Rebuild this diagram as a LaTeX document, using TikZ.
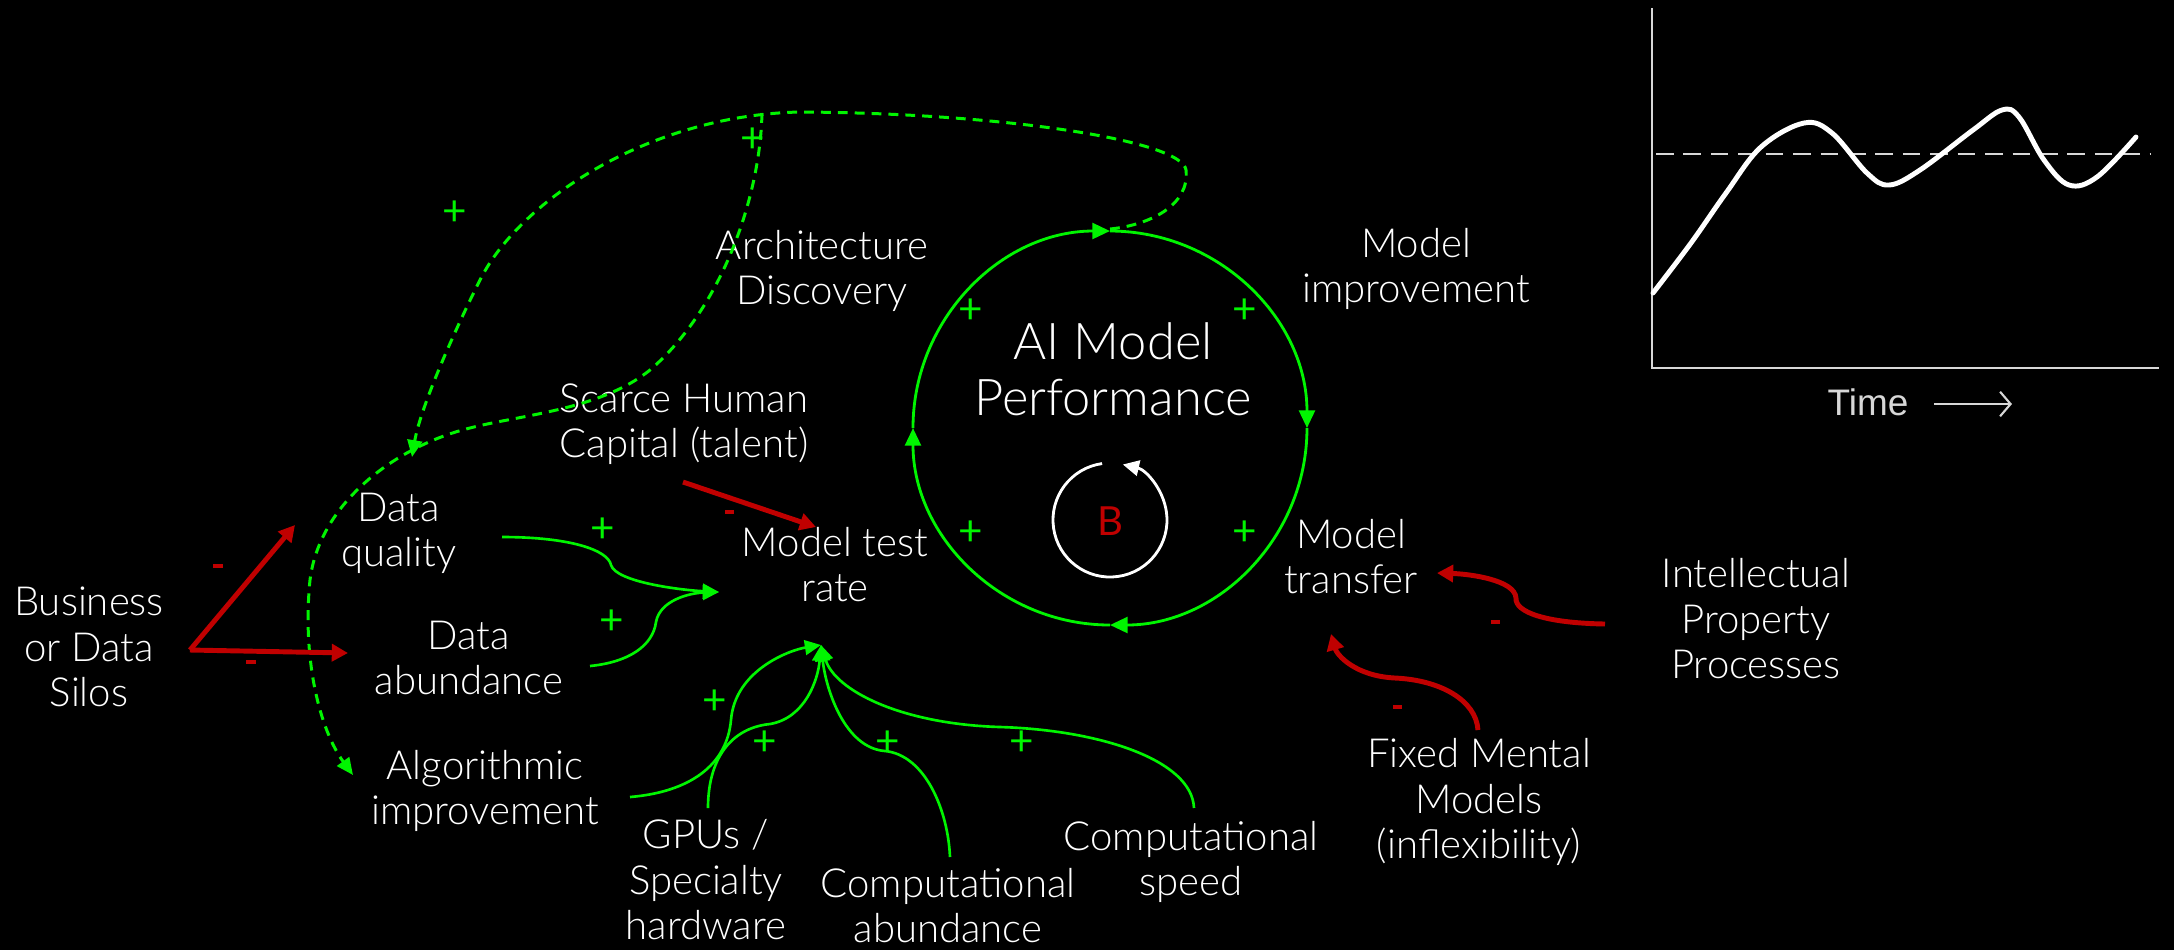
\documentclass[tikz,border=0pt]{standalone}
\usepackage{fontspec}
\setmainfont{Lato}[UprightFont={* Light}]
\newfontfamily\regfont{Lato}
\newfontfamily\chartfont{Liberation Sans}
\usetikzlibrary{arrows.meta}
\definecolor{cgreen}{RGB}{0,245,0}
\definecolor{cred}{RGB}{192,0,0}
\definecolor{chartgray}{RGB}{215,215,215}
\tikzset{
  lbl/.style={text=white, align=center, anchor=base, inner sep=0pt, font=\fontsize{11.4pt}{12.8pt}\selectfont},
  gconn/.style={draw=cgreen, line width=0.75pt, -{Triangle[length=4.6pt,width=4.2pt]}},
  gdash/.style={draw=cgreen, line width=0.85pt, dash pattern=on 2.8pt off 2pt, -{Triangle[length=4.8pt,width=4.2pt]}},
  rconn/.style={draw=cred, line width=1.4pt, -{Triangle[length=4.6pt,width=4.8pt]}},
  plus/.style={text=cgreen, inner sep=0pt, font=\regfont\fontsize{12pt}{12pt}\selectfont},
  minus/.style={fill=cred, inner sep=0pt, minimum width=0.09cm, minimum height=0.035cm},
  loopcirc/.style={draw=cgreen, line width=0.8pt, -{Triangle[length=5pt,width=4.5pt]}}
}
\begin{document}
\begin{tikzpicture}[x=0.01cm, y=-0.01cm]
\fill[black] (0,0) rectangle (2174,950);
\useasboundingbox (0,0) rectangle (2174,950);

% ---------- text nodes (anchored at the baseline of their last line) ----------
\node[lbl] (biz)  at (89,706)  {Business\\or Data\\Silos};
\node[lbl] (dq)   at (399,566) {Data\\quality};
\node[lbl] (da)   at (469,694) {Data\\abundance};
\node[lbl] (alg)  at (485,824) {Algorithmic\\improvement};
\node[lbl] (mtr)  at (835,601) {Model test\\rate};
\node[lbl] (shc)  at (684,457) {Scarce Human\\Capital (talent)};
\node[lbl] (arch) at (822,304) {Architecture\\Discovery};
\node[lbl] (mi)   at (1416,302) {Model\\improvement};
\node[lbl] (mt)   at (1351,593) {Model\\transfer};
\node[lbl] (ip)   at (1756,678) {Intellectual\\Property\\Processes};
\node[lbl] (fmm)  at (1479,858) {Fixed Mental\\Models\\(inflexibility)};
\node[lbl] (gpu)  at (706,939) {GPUs /\\Specialty\\hardware};
\node[lbl] (ca)   at (948,942) {Computational\\abundance};
\node[lbl] (cs)   at (1191,895) {Computational\\speed};
\node[lbl, font=\fontsize{14.4pt}{15.65pt}\selectfont] (aimp) at (1113,415) {AI Model\\Performance};
\node[lbl, text=cred, font=\regfont\fontsize{11.4pt}{12.8pt}\selectfont] (bl) at (1110,535) {B};

% ---------- main loop ----------
\coordinate (C) at (1110,428);
\draw[loopcirc] ([shift={(180:197)}]C) arc[start angle=180, end angle=270, radius=197];
\draw[loopcirc] ([shift={(270:197)}]C) arc[start angle=270, end angle=360, radius=197];
\draw[loopcirc] ([shift={(360:197)}]C) arc[start angle=360, end angle=450, radius=197];
\draw[loopcirc] ([shift={(450:197)}]C) arc[start angle=450, end angle=540, radius=197];
\coordinate (ctop) at (1110,229);

% B loop
\coordinate (Bc) at (1110,520);
\draw[white, line width=0.8pt, -{Triangle[length=4.6pt,width=4.4pt]}] ([shift={(-98:57)}]Bc) arc[start angle=-98, end angle=-437, radius=57];

% ---------- dashed connectors ----------
\coordinate (dqin) at (412,457);
\coordinate (jtop) at (762,113);
\coordinate (algin) at (353,775);
\draw[gdash] (ctop) .. controls (1150,225) and (1190,205) .. (1186,170)
  .. controls (1182,140) and (1000,113) .. (800,112)
  .. controls (650,115) and (520,200) .. (480,280)
  .. controls (450,340) and (420,410) .. (dqin);
\draw[gdash] (jtop) .. controls (760,200) and (720,310) .. (650,370)
  .. controls (600,410) and (520,415) .. (470,428)
  .. controls (400,445) and (320,500) .. (310,580)
  .. controls (302,660) and (320,730) .. (algin);

% ---------- green solid connectors ----------
\coordinate (dqo) at (502,537);
\coordinate (dao) at (590,666);
\coordinate (mtrl) at (719,592);
\draw[gconn] (dqo) .. controls (570,537) and (608,550) .. (611,565)
  .. controls (616,582) and (680,590) .. (mtrl);
\draw[gconn] (dao) .. controls (630,662) and (653,645) .. (656,622)
  .. controls (660,600) and (690,593) .. (mtrl);

\coordinate (mtrb) at (821,645);
\coordinate (algo) at (630,797);
\coordinate (gpuo) at (708,808);
\coordinate (cao) at (950,857);
\coordinate (cso) at (1194,808);
\draw[gconn] (algo) .. controls (690,792) and (727,765) .. (731,720)
  .. controls (735,670) and (790,650) .. (mtrb);
\draw[gconn] (gpuo) .. controls (708,760) and (730,728) .. (770,724)
  .. controls (805,718) and (818,680) .. (mtrb);
\draw[gconn] (cao) .. controls (948,810) and (925,755) .. (885,751)
  .. controls (845,748) and (826,690) .. (mtrb);
\draw[gconn] (cso) .. controls (1192,760) and (1100,730) .. (1000,727)
  .. controls (900,724) and (835,690) .. (mtrb);

% ---------- red connectors ----------
\coordinate (bizo) at (190,650);
\coordinate (dqi2) at (295,525);
\coordinate (dai) at (348,653);
\draw[rconn] (bizo) -- (dqi2);
\draw[rconn] (bizo) -- (dai);
\coordinate (shco) at (683,482);
\coordinate (mtrt) at (816,527);
\draw[rconn] (shco) -- (mtrt);
\coordinate (ipo) at (1605,624);
\coordinate (mtr1) at (1437,573);
\draw[rconn] (ipo) .. controls (1545,623) and (1515,612) .. (1516,598)
  .. controls (1515,580) and (1470,574) .. (mtr1);
\coordinate (fmmo) at (1478,730);
\coordinate (mtr2) at (1331,634);
\draw[rconn] (fmmo) .. controls (1476,700) and (1440,680) .. (1395,678)
  .. controls (1355,676) and (1337,655) .. (mtr2);

% ---------- polarity marks ----------
\node[minus] (m1) at (218,566) {};
\node[minus] (m2) at (251,662) {};
\node[minus] (m3) at (729,512) {};
\node[minus] (m4) at (1495,622) {};
\node[minus] (m5) at (1397,707) {};

\node[plus] (p1) at (603,530) {+};
\node[plus] (p2) at (612,622) {+};
\node[plus] (p3) at (715,702) {+};
\node[plus] (p4) at (765,743) {+};
\node[plus] (p5) at (888,743) {+};
\node[plus] (p6) at (1022,743) {+};
\node[plus] (p7) at (971,311) {+};
\node[plus] (p8) at (1245,311) {+};
\node[plus] (p9) at (971,533) {+};
\node[plus] (p10) at (1245,533) {+};
\node[plus] (p11) at (753,140) {+};
\node[plus] (p12) at (455,213) {+};

% ---------- behaviour-over-time chart ----------
\coordinate (ax0) at (1652,368);
\coordinate (axtop) at (1652,8);
\coordinate (axright) at (2159,368);
\draw[chartgray, line width=0.6pt] (axtop) -- (ax0) -- (axright);
\draw[chartgray, line width=0.8pt, dash pattern=on 5pt off 2.8pt] (1656,154) -- (2150,154);
\draw[white, line width=1.4pt, line cap=round] plot[smooth, tension=0.6] coordinates {
 (1653,293) (1691,243) (1726,193) (1761,147) (1804,123) (1832,133) (1867,173) (1889,185)
 (1920,170) (1973,130) (2002,110) (2019,117) (2044,160) (2069,185) (2097,177) (2136,137)};
\node[text=chartgray, anchor=base, inner sep=0pt, font=\chartfont\fontsize{10.5pt}{12pt}\selectfont] (time) at (1868,415) {Time};
\coordinate (ta) at (1934,404);
\coordinate (tb) at (2012,404);
\draw[chartgray, line width=0.6pt, -{Straight Barb[length=3pt,width=7pt]}] (ta) -- (tb);
\end{tikzpicture}
\end{document}
